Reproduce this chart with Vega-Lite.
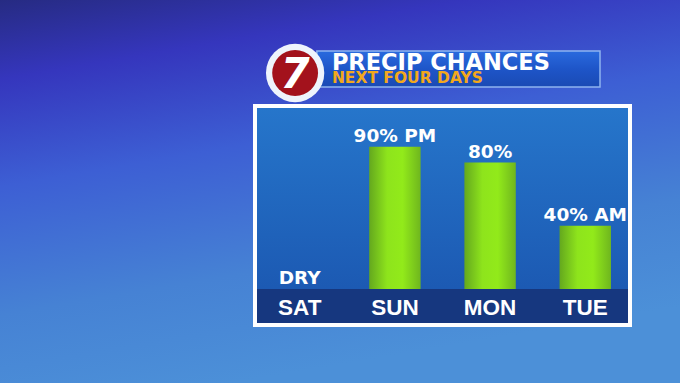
{
  "$schema": "https://vega.github.io/schema/vega-lite/v6.json",
  "width": 375,
  "height": 219,
  "padding": {"left": 255, "top": 106, "right": 50, "bottom": 58},
  "autosize": {"type": "none"},
  "background": "#3a55c8",
  "config": {"view": {"stroke": null}},
  "datasets": {
    "precip": [
      {"day": "SAT", "chance": 0, "label": "DRY"},
      {"day": "SUN", "chance": 90, "label": "90% PM"},
      {"day": "MON", "chance": 80, "label": "80%"},
      {"day": "TUE", "chance": 40, "label": "40% AM"}
    ],
    "one": [{"k": 1}]
  },
  "resolve": {"scale": {"x": "independent"}},
  "layer": [
    {
      "data": {"name": "one"},
      "mark": {"type": "rect", "fill": {"gradient": "linear", "x1": 0, "y1": 0, "x2": 0.3, "y2": 1, "stops": [
        {"offset": 0, "color": "#252a7e"},
        {"offset": 0.2, "color": "#3536bd"},
        {"offset": 0.45, "color": "#3d5fd4"},
        {"offset": 0.75, "color": "#4682d4"},
        {"offset": 1, "color": "#4c90d8"}]}},
      "encoding": {
        "x": {"datum": -0.7, "type": "quantitative", "scale": {"domain": [0, 1], "nice": false, "zero": false}, "axis": null},
        "x2": {"datum": 1.15},
        "y": {"datum": 186, "type": "quantitative", "scale": {"domain": [-22.8, 115.8], "nice": false, "zero": false}, "axis": null},
        "y2": {"datum": -63}
      }
    },
    {
      "data": {"name": "one"},
      "mark": {"type": "rect", "fill": {"gradient": "linear", "x1": 0, "y1": 0, "x2": 0, "y2": 1, "stops": [
        {"offset": 0, "color": "#2676cb"},
        {"offset": 1, "color": "#1a54ae"}]}},
      "encoding": {}
    },
    {
      "data": {"name": "one"},
      "mark": {"type": "rect", "color": "#16377f"},
      "encoding": {
        "y": {"datum": 0, "type": "quantitative", "scale": {"domain": [-22.8, 115.8], "nice": false, "zero": false}, "axis": null},
        "y2": {"datum": -22.8}
      }
    },
    {
      "data": {"name": "precip"},
      "layer": [
        {
          "mark": {"type": "bar", "fill": {"gradient": "linear", "x1": 0, "y1": 0, "x2": 1, "y2": 0, "stops": [
            {"offset": 0, "color": "#64a81e"},
            {"offset": 0.35, "color": "#8ee41c"},
            {"offset": 0.65, "color": "#92ea1a"},
            {"offset": 1, "color": "#6fb61e"}]}},
          "encoding": {
            "x": {"field": "day", "type": "nominal", "sort": null, "scale": {"paddingInner": 0.46, "paddingOuter": 0.2}, "axis": null},
            "y": {"field": "chance", "type": "quantitative", "scale": {"domain": [-22.8, 115.8], "nice": false, "zero": false}, "axis": null}
          }
        },
        {
          "mark": {"type": "text", "color": "white", "font": "DejaVu Sans", "fontWeight": "bold", "fontSize": 18.5, "baseline": "alphabetic", "dy": -5},
          "encoding": {
            "x": {"field": "day", "type": "nominal", "sort": null, "scale": {"paddingInner": 0.46, "paddingOuter": 0.2}, "axis": null},
            "y": {"field": "chance", "type": "quantitative", "scale": {"domain": [-22.8, 115.8], "nice": false, "zero": false}, "axis": null},
            "text": {"field": "label"}
          }
        },
        {
          "mark": {"type": "text", "color": "white", "font": "Liberation Sans", "fontWeight": "bold", "fontSize": 22.5, "baseline": "alphabetic"},
          "encoding": {
            "x": {"field": "day", "type": "nominal", "sort": null, "scale": {"paddingInner": 0.46, "paddingOuter": 0.2}, "axis": null},
            "y": {"datum": -16.5, "type": "quantitative", "scale": {"domain": [-22.8, 115.8], "nice": false, "zero": false}, "axis": null},
            "text": {"field": "day"}
          }
        }
      ]
    },
    {
      "data": {"name": "one"},
      "mark": {"type": "rect", "fill": null, "stroke": "white", "strokeWidth": 4},
      "encoding": {}
    },
    {
      "data": {"name": "one"},
      "mark": {"type": "rect", "stroke": "#8fb4f0", "strokeWidth": 1.5, "fill": {"gradient": "linear", "x1": 0, "y1": 0, "x2": 0, "y2": 1, "stops": [
        {"offset": 0, "color": "#2a6ade"},
        {"offset": 0.5, "color": "#1e55c8"},
        {"offset": 1, "color": "#1a4ab4"}]}},
      "encoding": {
        "x": {"datum": 0.165, "type": "quantitative", "scale": {"domain": [0, 1], "nice": false, "zero": false}, "axis": null},
        "x2": {"datum": 0.92},
        "y": {"datum": 150.6, "type": "quantitative", "scale": {"domain": [-22.8, 115.8], "nice": false, "zero": false}, "axis": null},
        "y2": {"datum": 127.8}
      }
    },
    {
      "data": {"name": "one"},
      "mark": {"type": "point", "shape": "circle", "filled": true, "color": "#eef4fc", "size": 3400, "opacity": 1},
      "encoding": {
        "x": {"datum": 0.107, "type": "quantitative", "scale": {"domain": [0, 1], "nice": false, "zero": false}, "axis": null},
        "y": {"datum": 136.7, "type": "quantitative", "scale": {"domain": [-22.8, 115.8], "nice": false, "zero": false}, "axis": null}
      }
    },
    {
      "data": {"name": "one"},
      "mark": {"type": "point", "shape": "circle", "filled": true, "color": "#a3121c", "size": 2100, "opacity": 1},
      "encoding": {
        "x": {"datum": 0.107, "type": "quantitative", "scale": {"domain": [0, 1], "nice": false, "zero": false}, "axis": null},
        "y": {"datum": 136.7, "type": "quantitative", "scale": {"domain": [-22.8, 115.8], "nice": false, "zero": false}, "axis": null}
      }
    },
    {
      "data": {"name": "one"},
      "mark": {"type": "text", "text": "7", "color": "white", "font": "DejaVu Sans", "fontWeight": "bold", "fontStyle": "italic", "fontSize": 42, "baseline": "middle", "align": "center", "dy": 2},
      "encoding": {
        "x": {"datum": 0.107, "type": "quantitative", "scale": {"domain": [0, 1], "nice": false, "zero": false}, "axis": null},
        "y": {"datum": 136.7, "type": "quantitative", "scale": {"domain": [-22.8, 115.8], "nice": false, "zero": false}, "axis": null}
      }
    },
    {
      "data": {"name": "one"},
      "mark": {"type": "text", "text": "PRECIP CHANCES", "color": "white", "font": "DejaVu Sans", "fontWeight": "bold", "fontSize": 22.5, "baseline": "alphabetic", "align": "left"},
      "encoding": {
        "x": {"datum": 0.205, "type": "quantitative", "scale": {"domain": [0, 1], "nice": false, "zero": false}, "axis": null},
        "y": {"datum": 138.8, "type": "quantitative", "scale": {"domain": [-22.8, 115.8], "nice": false, "zero": false}, "axis": null}
      }
    },
    {
      "data": {"name": "one"},
      "mark": {"type": "text", "text": "NEXT FOUR DAYS", "color": "#f2a81c", "font": "DejaVu Sans", "fontWeight": "bold", "fontSize": 15.5, "baseline": "alphabetic", "align": "left"},
      "encoding": {
        "x": {"datum": 0.205, "type": "quantitative", "scale": {"domain": [0, 1], "nice": false, "zero": false}, "axis": null},
        "y": {"datum": 130.2, "type": "quantitative", "scale": {"domain": [-22.8, 115.8], "nice": false, "zero": false}, "axis": null}
      }
    }
  ]
}
